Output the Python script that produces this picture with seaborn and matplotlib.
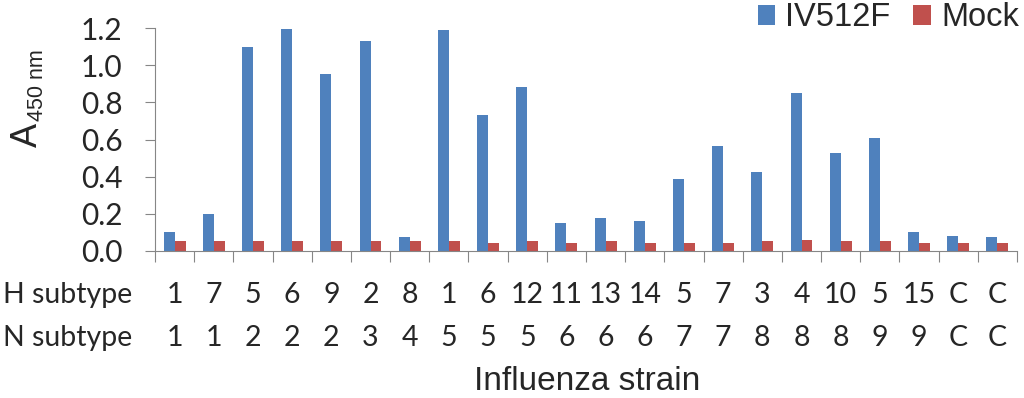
import matplotlib
matplotlib.use("Agg")
import matplotlib.pyplot as plt
import matplotlib.transforms as mtransforms
import seaborn as sns
import pandas as pd
import numpy as np

h_subtype = ["1", "7", "5", "6", "9", "2", "8", "1", "6", "12", "11", "13", "14",
             "5", "7", "3", "4", "10", "5", "15", "C", "C"]
n_subtype = ["1", "1", "2", "2", "2", "3", "4", "5", "5", "5", "6", "6", "6",
             "7", "7", "8", "8", "8", "9", "9", "C", "C"]
iv512f = [0.10, 0.20, 1.10, 1.195, 0.95, 1.13, 0.075, 1.19, 0.73, 0.885, 0.15,
          0.18, 0.16, 0.385, 0.565, 0.425, 0.85, 0.53, 0.61, 0.10, 0.08, 0.075]
mock = [0.052, 0.052, 0.052, 0.052, 0.052, 0.052, 0.052, 0.052, 0.045, 0.052,
        0.045, 0.052, 0.045, 0.045, 0.045, 0.052, 0.059, 0.052, 0.052, 0.045,
        0.045, 0.045]
series_names = ["IV512F", "Mock"]
colors = ["#4F81BD", "#C0504D"]

strain_ids = [f"{i}:H{h}N{n}" for i, (h, n) in enumerate(zip(h_subtype, n_subtype))]
df = pd.DataFrame({
    "strain": strain_ids * 2,
    "value": iv512f + mock,
    "series": [series_names[0]] * len(iv512f) + [series_names[1]] * len(mock),
})

sns.set_theme(style="white")
plt.rcParams["font.family"] = ["Lato", "DejaVu Sans"]
ARIAL = ["Liberation Sans", "DejaVu Sans"]

W, H = 1024, 398
fig = plt.figure(figsize=(W / 100, H / 100), dpi=100)
ax = fig.add_axes([155 / W, 1 - 251 / H, (1017 - 155) / W, (251 - 28) / H])

sns.barplot(data=df, x="strain", y="value", hue="series", order=strain_ids,
            hue_order=series_names, palette=colors, width=0.56, saturation=1,
            ax=ax, legend=True, edgecolor="none")

n = len(strain_ids)
ax.set_xlim(-0.5, n - 0.5)
ax.set_ylim(0, 1.2)
yt = np.arange(0, 1.21, 0.2)
ax.set_yticks(yt)
ax.set_yticklabels([f"{v:.1f}" for v in yt], fontsize=21.5)
ax.tick_params(axis="y", direction="out", length=7.5, width=0.8, color="#868686",
               left=True, pad=16)
ax.set_xticks([])
ax.set_xticks(np.arange(-0.5, n, 1.0), minor=True)
ax.tick_params(axis="x", which="minor", direction="out", length=8, width=0.8,
               color="#868686", bottom=True)
ax.set_xlabel("")
ax.set_ylabel("")

for side in ["top", "right"]:
    ax.spines[side].set_visible(False)
for side in ["left", "bottom"]:
    ax.spines[side].set_color("#868686")
    ax.spines[side].set_linewidth(0.8)

# y-axis label: "A" with small subscript
fig.text(37 / W, 1 - 147 / H, "A", rotation=90, rotation_mode="anchor",
         ha="left", va="baseline", fontsize=26, family=ARIAL)
fig.text(43 / W, 1 - 121 / H, "450 nm", rotation=90, rotation_mode="anchor",
         ha="left", va="baseline", fontsize=15.5, family=ARIAL)

# table rows below axis
trans = mtransforms.blended_transform_factory(ax.transData, fig.transFigure)
row_y = [1 - 295 / H, 1 - 338 / H]
for lab, vals, yy in zip(["H subtype", "N subtype"], [h_subtype, n_subtype], row_y):
    fig.text(3 / W, yy, lab, ha="left", va="center", fontsize=20.5)
    for i, v in enumerate(vals):
        ax.text(i, yy, v, transform=trans, ha="center", va="center", fontsize=20.5)
fig.text(587 / W, 1 - 381 / H, "Influenza strain",
         ha="center", va="center", fontsize=24, family=ARIAL)

leg = ax.legend(loc="center right", bbox_to_anchor=(1019 / W, 1 - 18 / H),
                bbox_transform=fig.transFigure, ncol=2, frameon=False,
                fontsize=23.5, handlelength=0.55, handleheight=0.55,
                handletextpad=0.3, columnspacing=0.7, borderaxespad=0,
                borderpad=0)
for t in leg.get_texts():
    t.set_fontfamily(ARIAL)

fig.savefig("out.png", dpi=100)
